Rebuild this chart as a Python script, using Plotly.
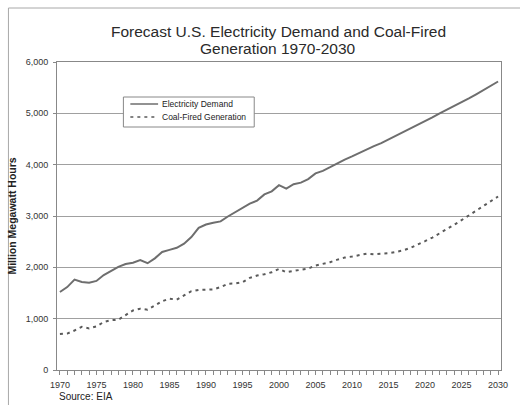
import plotly.graph_objects as go

years = list(range(1970, 2031))

electricity_demand = [
    1520, 1615, 1760, 1715, 1700, 1735, 1850, 1935, 2010, 2065,
    2090, 2140, 2080, 2175, 2300, 2340, 2380, 2460, 2590, 2770,
    2835, 2870, 2895, 2990, 3070, 3160, 3240, 3300, 3420, 3480,
    3600, 3535, 3620, 3650, 3720, 3830, 3880, 3950, 4030, 4100,
    4160, 4230, 4290, 4360, 4420, 4490, 4560, 4630, 4700, 4780,
    4850, 4920, 5000, 5070, 5140, 5220, 5290, 5370, 5450, 5540,
    5620,
]

coal_generation = [
    700, 710, 770, 840, 810, 850, 935, 970, 980, 1065,
    1160, 1195, 1175, 1255, 1340, 1390, 1370, 1455, 1535, 1560,
    1570, 1570, 1615, 1680, 1685, 1710, 1795, 1840, 1865, 1905,
    1970, 1905, 1930, 1955, 1975, 2035, 2070, 2100, 2150, 2190,
    2210, 2235, 2265, 2255, 2260, 2275, 2300, 2330, 2380, 2440,
    2510, 2580, 2660, 2750, 2830, 2920, 3010, 3100, 3190, 3280,
    3380,
]

series_names = ["Electricity Demand", "Coal-Fired Generation"]

x_tick_vals = list(range(1970, 2031, 5))
x_tick_text = [str(v) for v in x_tick_vals]
y_tick_vals = [0, 1000, 2000, 3000, 4000, 5000, 6000]
y_tick_text = ["0", "1,000", "2,000", "3,000", "4,000", "5,000", "6,000"]

title_lines = ["Forecast U.S. Electricity Demand and Coal-Fired", "Generation 1970-2030"]
y_title = "Million Megawatt Hours"
source_text = "Source: EIA"

FONT = "Liberation Sans, Arial, sans-serif"
LINE_STYLES = [dict(color="#6e6e6e", width=2),
               dict(color="#5a5a5a", width=2, dash="3px,4px")]

fig = go.Figure()
for name, vals, st in zip(series_names, [electricity_demand, coal_generation], LINE_STYLES):
    fig.add_trace(go.Scatter(x=years, y=vals, mode="lines", name=name, line=st,
                             showlegend=False, hoverinfo="skip"))

L, R, T, B = 56, 16, 62, 35
W, H = 520, 405
pw = W - L - R
ph = H - T - B

def px2paper_x(px):
    return (px - L) / pw

def px2paper_y(py):
    return (H - B - py) / ph

shapes = [
    # outer chart border
    dict(type="rect", xref="paper", yref="paper",
         x0=px2paper_x(7), x1=px2paper_x(540), y0=px2paper_y(420), y1=px2paper_y(8),
         line=dict(color="#a8a8a8", width=1), fillcolor="rgba(0,0,0,0)", layer="above"),
    # legend box
    dict(type="rect", xref="paper", yref="paper",
         x0=px2paper_x(123), x1=px2paper_x(255), y0=px2paper_y(127), y1=px2paper_y(97),
         line=dict(color="#888", width=1), fillcolor="white", layer="above"),
]
annotations = []
legend_rows_y = [104, 117]
for name, st, ry in zip(series_names, LINE_STYLES, legend_rows_y):
    shapes.append(dict(type="line", xref="paper", yref="paper",
                       x0=px2paper_x(130), x1=px2paper_x(158),
                       y0=px2paper_y(ry), y1=px2paper_y(ry),
                       line=dict(color=st["color"], width=1.5,
                                 dash=st.get("dash", "solid")),
                       layer="above"))
    annotations.append(dict(text=name, xref="paper", yref="paper",
                            x=px2paper_x(160), y=px2paper_y(ry), xanchor="left", yanchor="middle",
                            showarrow=False, font=dict(size=8.5, color="#222", family=FONT)))

for line, cy in zip(title_lines, [31, 48]):
    annotations.append(dict(text=line, xref="paper", yref="paper",
                            x=px2paper_x(279), y=px2paper_y(cy), xanchor="center", yanchor="middle",
                            showarrow=False, font=dict(size=15.5, color="#2a2a2a", family=FONT)))

annotations.append(dict(text=source_text, xref="paper", yref="paper",
                        x=px2paper_x(56), y=px2paper_y(397), xanchor="left", yanchor="middle",
                        showarrow=False, font=dict(size=10, color="#222", family=FONT)))

fig.update_layout(
    width=W, height=H,
    margin=dict(l=L, r=R, t=T, b=B, pad=0),
    paper_bgcolor="white", plot_bgcolor="white",
    font=dict(family=FONT, color="#222"),
    showlegend=False,
    xaxis=dict(range=[1969.6, 2030.4], tickmode="array", tickvals=x_tick_vals,
               ticktext=x_tick_text, ticks="outside", ticklen=4, tickcolor="#888",
               minor=dict(dtick=1, tick0=1970, ticks="outside", ticklen=4, tickcolor="#888", showgrid=False),
               showgrid=False, showline=True, linecolor="#888", linewidth=1, mirror=True,
               tickfont=dict(size=9, color="#333"), zeroline=False, ticklabelstandoff=2),
    yaxis=dict(range=[0, 6000], tickmode="array", tickvals=y_tick_vals, ticktext=y_tick_text,
               ticks="outside", ticklen=3, tickcolor="#888",
               showgrid=True, gridcolor="#a0a0a0", gridwidth=1,
               showline=True, linecolor="#888", linewidth=1, mirror=True,
               tickfont=dict(size=9, color="#333"), zeroline=False, ticklabelstandoff=3,
               title=dict(text="<b>" + y_title + "</b>", font=dict(size=10.5, color="#222"), standoff=6)),
    shapes=shapes,
    annotations=annotations,
)

fig.write_html("out.html", config={"displayModeBar": False, "staticPlot": True},
               post_script="document.body.style.margin='0';document.body.style.overflow='hidden';")
